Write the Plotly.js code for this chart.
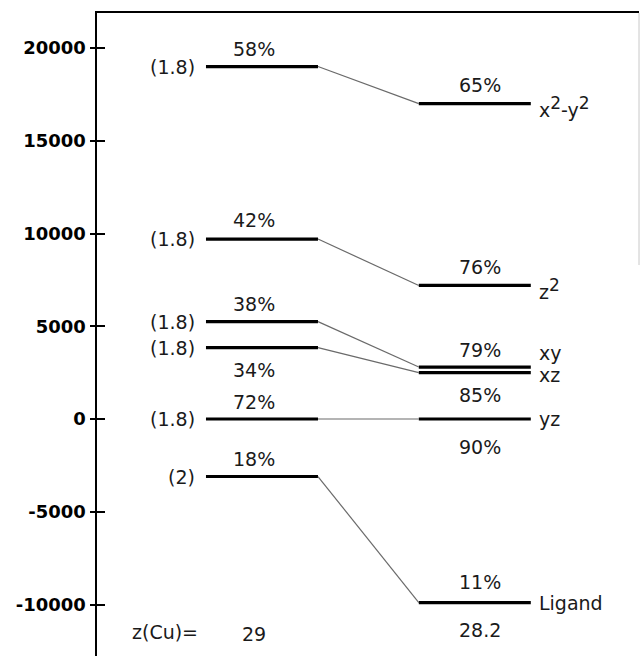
<!DOCTYPE html>
<html>
<head>
<meta charset="utf-8">
<script src="https://cdn.plot.ly/plotly-3.0.1.min.js"></script>
<style>html,body{margin:0;padding:0;background:#fff;}#chart{width:640px;height:656px;}</style>
</head>
<body>
<div id="chart"></div>
<script>
// ---- data ----
const orbitalLabels = ["x<sup>2</sup>-y<sup>2</sup>", "z<sup>2</sup>", "xy", "xz", "yz", "Ligand"];
const leftEnergy  = [19000, 9700, 5250, 3850, 0, -3100];
const rightEnergy = [17000, 7200, 2800, 2500, 0, -9900];
const leftPct  = ["58%", "42%", "38%", "34%", "72%", "18%"];
const rightPct = ["65%", "76%", "79%", "85%", "90%", "11%"];
const leftCharge = ["(1.8)", "(1.8)", "(1.8)", "(1.8)", "(1.8)", "(2)"];
const zLabel = "z(Cu)=";
const zLeft = "29";
const zRight = "28.2";
const zRowEnergy = -11500;
const tickValues = [-10000, -5000, 0, 5000, 10000, 15000, 20000];
const tickLabels = ["-10000", "-5000", "0", "5000", "10000", "15000", "20000"];

// ---- layout / style ----
const leftCol = [0, 1];
const rightCol = [1.9, 2.9];
const leftPctX = 0.43, rightPctX = 2.45;
const leftPctShift  = [18, 19, 18, -22, 17, 18];
const rightPctShift = [19, 18, 17, -22, -28, 21];
const orbShift = [-3, -4, 14, -2, 0, 0];
const FONT = "DejaVu Sans";
const txt = {family: FONT, size: 19, color: "#1a1a1a"};
const supStyle = s => s.replace(/<sup>(.*?)<\/sup>/g, '<sup><span style="font-size:17px">$1</span></sup>');

const traces = [];
for (let i = 0; i < leftEnergy.length; i++) {
  traces.push({x: leftCol, y: [leftEnergy[i], leftEnergy[i]], mode: "lines",
    line: {color: "#000", width: 3.2}, hoverinfo: "skip", showlegend: false});
  traces.push({x: rightCol, y: [rightEnergy[i], rightEnergy[i]], mode: "lines",
    line: {color: "#000", width: 3.2}, hoverinfo: "skip", showlegend: false});
  traces.push({x: [leftCol[1], rightCol[0]], y: [leftEnergy[i], rightEnergy[i]], mode: "lines",
    line: {color: "#6a6a6a", width: 1.2}, hoverinfo: "skip", showlegend: false});
}
// overlay axis for crossing ticks
traces.push({x: [leftCol[0]], y: [0], yaxis: "y2", mode: "markers",
  marker: {opacity: 0}, hoverinfo: "skip", showlegend: false});

const ann = [];
for (let i = 0; i < leftEnergy.length; i++) {
  ann.push({x: leftCol[0], y: leftEnergy[i], text: leftCharge[i], xanchor: "right", yanchor: "middle",
    xshift: -9, showarrow: false, font: txt});
  ann.push({x: leftPctX, y: leftEnergy[i], text: leftPct[i], xanchor: "center", yanchor: "middle",
    yshift: leftPctShift[i], showarrow: false, font: txt});
  ann.push({x: rightPctX, y: rightEnergy[i], text: rightPct[i], xanchor: "center", yanchor: "middle",
    yshift: rightPctShift[i], showarrow: false, font: txt});
  ann.push({x: rightCol[1], y: rightEnergy[i], text: supStyle(orbitalLabels[i]), xanchor: "left", yanchor: "middle",
    xshift: 6, yshift: orbShift[i], showarrow: false, font: txt});
}
ann.push({x: leftCol[0], y: zRowEnergy, text: zLabel, xanchor: "right", yanchor: "middle",
  xshift: -6, showarrow: false, font: txt});
ann.push({x: leftPctX, y: zRowEnergy, text: zLeft, xanchor: "center", yanchor: "middle",
  yshift: -2, showarrow: false, font: txt});
ann.push({x: rightPctX, y: zRowEnergy, text: zRight, xanchor: "center", yanchor: "middle",
  yshift: 2, showarrow: false, font: txt});

const yRange = [-12776, 21887];
const layout = {
  width: 640, height: 656,
  margin: {l: 97, r: 1, t: 13, b: 0, pad: 0},
  paper_bgcolor: "#ffffff", plot_bgcolor: "#ffffff",
  showlegend: false,
  xaxis: {range: [-0.973, 3.866], side: "top", showline: true, linecolor: "#000", linewidth: 2,
    showgrid: false, zeroline: false, ticks: "", showticklabels: false, fixedrange: true},
  yaxis: {range: yRange, showline: true, linecolor: "#000", linewidth: 2.5,
    showgrid: false, zeroline: false, ticks: "outside", ticklen: 5, tickwidth: 2, tickcolor: "#000",
    tickmode: "array", tickvals: tickValues, ticktext: tickLabels,
    tickfont: {family: FONT, size: 18, color: "#000", weight: "bold"}, fixedrange: true},
  yaxis2: {range: yRange, overlaying: "y", side: "left", showline: false, showgrid: false,
    zeroline: false, ticks: "inside", ticklen: 8, tickwidth: 2, tickcolor: "#000",
    tickmode: "array", tickvals: tickValues, showticklabels: false, fixedrange: true},
  shapes: [{type: "line", xref: "paper", yref: "y", x0: 1, x1: 1, y0: yRange[1], y1: 8300,
    line: {color: "#c8c8c8", width: 1}}],
  annotations: ann
};
Plotly.newPlot("chart", traces, layout, {displayModeBar: false, staticPlot: true});
</script>
</body>
</html>
